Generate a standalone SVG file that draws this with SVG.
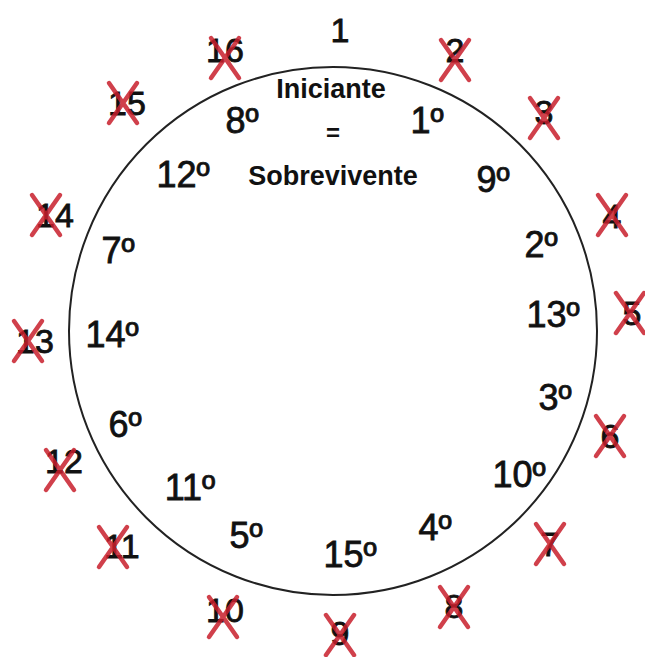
<svg xmlns="http://www.w3.org/2000/svg" width="645" height="657" viewBox="0 0 645 657">
<style>
.o{font-family:"Liberation Sans",Arial,sans-serif;font-size:34px;fill:#111;stroke:#111;stroke-width:0.8;text-anchor:middle}
.i{font-family:"Liberation Sans",Arial,sans-serif;font-size:36px;fill:#111;stroke:#111;stroke-width:0.8;text-anchor:middle}
.b{font-family:"Liberation Sans",Arial,sans-serif;font-size:27px;font-weight:bold;fill:#111;text-anchor:middle}
.x{stroke:#c81e2c;stroke-width:4.5;fill:none;opacity:0.85;stroke-linecap:round}
</style>
<defs>
<path id="X" d="M-14,-20 L14,20 M14,-20 L-14,20"/>
</defs>
<rect width="645" height="657" fill="#fff"/>
<g id="circle"><circle cx="333" cy="331" r="264" fill="none" stroke="#222" stroke-width="2"/></g>
<g id="center">
<text class="b" x="331" y="98">Iniciante</text>
<text class="b" x="333" y="141" style="font-size:24px">=</text>
<text class="b" x="333" y="185">Sobrevivente</text>
</g>
<g id="outer">
<g id="n1"><text class="o" x="340" y="42">1</text></g>
<g id="n2"><text class="o" x="455" y="62">2</text><use href="#X" class="x" x="455" y="60"/></g>
<g id="n3"><text class="o" x="544" y="124">3</text><use href="#X" class="x" x="544" y="118"/></g>
<g id="n4"><text class="o" x="612" y="228">4</text><use href="#X" class="x" x="612" y="215"/></g>
<g id="n5"><text class="o" x="632" y="325">5</text><use href="#X" class="x" x="630" y="313"/></g>
<g id="n6"><text class="o" x="610" y="448">6</text><use href="#X" class="x" x="610" y="436"/></g>
<g id="n7"><text class="o" x="550" y="556">7</text><use href="#X" class="x" x="550" y="544"/></g>
<g id="n8"><text class="o" x="454" y="618">8</text><use href="#X" class="x" x="454" y="607"/></g>
<g id="n9"><text class="o" x="340" y="645">9</text><use href="#X" class="x" x="340" y="635"/></g>
<g id="n10"><text class="o" x="225" y="622">10</text><use href="#X" class="x" x="223" y="617"/></g>
<g id="n11"><text class="o" x="122" y="558">11</text><use href="#X" class="x" x="113" y="547"/></g>
<g id="n12"><text class="o" x="64" y="473">12</text><use href="#X" class="x" x="60" y="470"/></g>
<g id="n13"><text class="o" x="35" y="353">13</text><use href="#X" class="x" x="28" y="341"/></g>
<g id="n14"><text class="o" x="55" y="227">14</text><use href="#X" class="x" x="46" y="215"/></g>
<g id="n15"><text class="o" x="127" y="115">15</text><use href="#X" class="x" x="123" y="103"/></g>
<g id="n16"><text class="o" x="225" y="62">16</text><use href="#X" class="x" x="225" y="58"/></g>
</g>
<g id="inner">
<text class="i" x="242" y="133">8º</text>
<text class="i" x="427" y="133">1º</text>
<text class="i" x="183" y="187">12º</text>
<text class="i" x="493" y="192">9º</text>
<text class="i" x="118" y="263">7º</text>
<text class="i" x="541" y="257">2º</text>
<text class="i" x="112" y="347">14º</text>
<text class="i" x="553" y="327">13º</text>
<text class="i" x="555" y="410">3º</text>
<text class="i" x="125" y="437">6º</text>
<text class="i" x="519" y="487">10º</text>
<text class="i" x="190" y="500">11º</text>
<text class="i" x="246" y="548">5º</text>
<text class="i" x="350" y="567">15º</text>
<text class="i" x="435" y="540">4º</text>
</g>
</svg>
